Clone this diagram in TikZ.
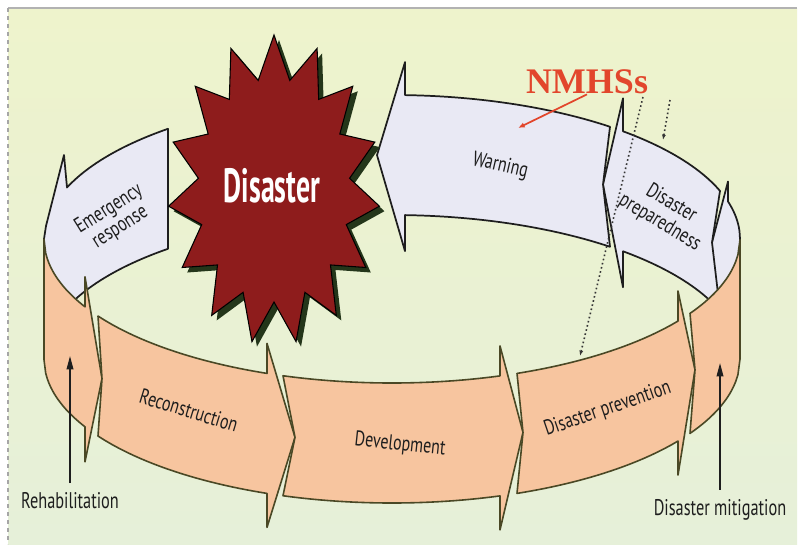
\documentclass[tikz,border=0pt]{standalone}
\usepackage{fontspec}
\setmainfont{PT Sans}
\newfontfamily\headfont{Liberation Serif}
\usepackage{graphicx}
\usepackage{tikz}
\usetikzlibrary{arrows.meta}
\definecolor{paper}{HTML}{EEF3CC}
\definecolor{paperlow}{HTML}{E6F0D9}
\definecolor{peach}{HTML}{F7C59F}
\definecolor{lilac}{HTML}{E9E9F4}
\definecolor{olive}{HTML}{4A4825}
\definecolor{ink}{HTML}{1E1E1E}
\definecolor{blood}{HTML}{8E1C1C}
\definecolor{moss}{HTML}{24361A}
\definecolor{alarm}{HTML}{E2462C}
% condensed label text
\newcommand{\narrow}[1]{\scalebox{0.75}[1]{\begin{tabular}{@{}c@{}}#1\end{tabular}}}

\begin{document}
\begin{tikzpicture}[
  x=0.75pt, y=-0.75pt,
  declare function={u(\x)=(\x-392)/348; rim(\x)=144*sqrt(max(0,1-u(\x)*u(\x)));
    tu(\x)=239-rim(\x); tl(\x)=239+rim(\x); bu(\x)=359-rim(\x); bl(\x)=359+rim(\x);
    fmid(\x)=299+rim(\x); bmid(\x)=299-rim(\x);},
  front/.style={draw=olive, line width=1.2pt, fill=peach, line join=round},
  back/.style={draw=ink, line width=1.3pt, fill=lilac, line join=round},
  lbl/.style={font=\fontsize{16}{15}\selectfont, text=ink, inner sep=0pt},
  foot/.style={font=\fontsize{17}{19}\selectfont, text=ink, inner sep=0pt},
  pointer/.style={-{Triangle[length=10pt,width=5pt]}, line width=1.1pt, draw=ink},
  hint/.style={dotted, line width=1.2pt, draw=ink!90, -{Latex[length=4pt,width=3pt]}}
]
\useasboundingbox (0,0) rectangle (799,546);
\fill[white] (0,0) rectangle (799,546);
\shade[top color=paper, bottom color=paperlow] (8,8) rectangle (797,544);
\draw[gray!60, line width=0.8pt] (8,8) -- (797,8);
\draw[gray!70, dashed, line width=0.8pt] (8,8) -- (8,544);

% back half of the ring, arrows run to the left
\draw[back] (740,239) -- plot[domain=740:728] (\x,{tu(\x)}) -- (728,{tu(728)-20})
  -- (712,{bmid(712)}) -- (712,310) -- (740,310) -- cycle;
\foreach \a/\n/\b/\t in {720/712/623/603, 610/603/405/377}
  \draw[back] (\a,{tu(\a)}) -- plot[domain=\a:\b] (\x,{tu(\x)}) -- (\b,{tu(\b)-33})
    -- (\t,{bmid(\t)}) -- (\b,{bu(\b)+36}) -- (\b,{bu(\b)})
    -- plot[domain=\b:\a] (\x,{bu(\x)}) -- (\n,{bmid(\n)}) -- cycle;
\draw[back] (168,{tu(168)}) -- plot[domain=168:67] (\x,{tu(\x)}) -- (64,155) -- (46,226)
  -- (44,239) -- (44,300) -- (67,{bu(67)}) -- plot[domain=67:168] (\x,{bu(\x)}) -- cycle;

% front half, arrows run to the right
\draw[front] (44,239) -- plot[domain=44:85] (\x,{tl(\x)}) -- (85,{tl(85)-30})
  -- (102,{fmid(102)}) -- (85,{bl(85)+35}) -- (85,{bl(85)})
  -- plot[domain=85:44] (\x,{bl(\x)}) -- cycle;
\foreach \a/\n/\b/\t in {98/102/267/295, 283/295/500/523, 517/523/678/695}
  \draw[front] (\a,{tl(\a)}) -- plot[domain=\a:\b] (\x,{tl(\x)}) -- (\b,{tl(\b)-30})
    -- (\t,{fmid(\t)}) -- (\b,{bl(\b)+34}) -- (\b,{bl(\b)})
    -- plot[domain=\b:\a] (\x,{bl(\x)}) -- (\n,{fmid(\n)}) -- cycle;
\draw[front] (690,{tl(690)}) -- plot[domain=690:740] (\x,{tl(\x)}) -- (740,359)
  -- plot[domain=740:690] (\x,{bl(\x)}) -- (695,{fmid(695)}) -- cycle;

% the star
\begin{scope}[shift={(5,5)}]
  \fill[moss] (274,35) \foreach \k in {0,...,14} {
    -- ({274+106*cos(90+24*\k)},{190-155*sin(90+24*\k)})
    -- ({274+76*cos(102+24*\k)},{190-112*sin(102+24*\k)}) } -- cycle;
\end{scope}
\filldraw[fill=blood, draw=black, line width=0.8pt] (274,35) \foreach \k in {0,...,14} {
    -- ({274+106*cos(90+24*\k)},{190-155*sin(90+24*\k)})
    -- ({274+76*cos(102+24*\k)},{190-112*sin(102+24*\k)}) } -- cycle;
\node[text=white, font=\bfseries\fontsize{36}{40}\selectfont, inner sep=0pt] (dis)
  at (272,186) {\scalebox{0.58}[1]{Disaster}};

% labels on the ring
\node[lbl, rotate=32] (emerg) at (115,219) {\narrow{Emergency\\[1pt]response}};
\node[lbl, rotate=-13] (warn) at (500,167) {\narrow{Warning}};
\node[lbl, rotate=-31] (prep) at (665,214) {\narrow{Disaster\\[1pt]preparedness}};
\node[lbl, rotate=-17] (recon) at (188,413) {\narrow{Reconstruction}};
\node[lbl, rotate=-6] (devel) at (400,446) {\narrow{Development}};
\node[lbl, rotate=19] (prev) at (608,410) {\narrow{Disaster prevention}};

% notes below
\node[foot] (rehab) at (70,501) {\scalebox{0.72}[1]{Rehabilitation}};
\node[foot] (mitig) at (720,510) {\scalebox{0.72}[1]{Disaster mitigation}};
\coordinate (rehabtip) at (70,356);
\coordinate (mitigtip) at (720,363);
\draw[pointer, shorten <=7pt] (rehab.north) -- (rehabtip);
\draw[pointer, shorten <=7pt] (mitig.north) -- (mitigtip);

% NMHSs and its links
\node[text=alarm, font=\headfont\bfseries\fontsize{27}{30}\selectfont, inner sep=0pt]
  (nmhs) at (587,82) {NMHSs};
\coordinate (warnhit) at (518,128);
\coordinate (hintB) at (670,100);
\coordinate (prevhit) at (580,356);
\coordinate (prephit) at (663,140);
\draw[alarm, line width=1.3pt, -{Latex[length=5pt,width=4pt]}] (nmhs.south) -- (warnhit);
\draw[hint] ([xshift=-4pt,yshift=-2pt]nmhs.south east) -- (prevhit);
\draw[hint] (hintB) -- (prephit);
\end{tikzpicture}
\end{document}
